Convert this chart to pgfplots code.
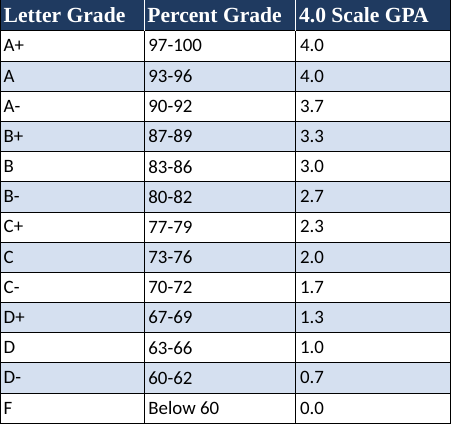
\documentclass[border=0pt]{standalone}
\usepackage{pgfplots}
\pgfplotsset{compat=1.18}
\usepackage{pgfplotstable}
\usepackage{fontspec}
\setmainfont{Carlito}
\newfontfamily\headfont{Liberation Serif}
\definecolor{navy}{HTML}{1F3A60}
\definecolor{rowblue}{HTML}{D5E0F0}
\pgfplotstableread[col sep=comma]{
y,a,b,c
48.0,A+,97-100,4.0
77.8,A,93-96,4.0
107.6,A-,90-92,3.7
137.4,B+,87-89,3.3
167.3,B,83-86,3.0
197.1,B-,80-82,2.7
226.9,C+,77-79,2.3
256.8,C,73-76,2.0
286.6,C-,70-72,1.7
316.4,D+,67-69,1.3
346.3,D,63-66,1.0
376.1,D-,60-62,0.7
406.0,F,Below 60,0.0
}\grades
\begin{document}
\begin{tikzpicture}
\begin{axis}[scale only axis, width=338.25pt, height=320.25pt,
 xmin=0,xmax=451,ymin=0,ymax=427, y dir=reverse, axis lines=none,
 clip=false]
% header
\addplot[fill=navy, draw=navy] coordinates {(3,3)(448,3)(448,33)(3,33)} -- cycle;
% shaded rows
\foreach \t in {62.9,122.6,182.2,241.9,301.5,361.2}{
 \edef\tmp{\noexpand\addplot[fill=rowblue, draw=none] coordinates {(3,\t)(448,\t)(448,\t+29.85)(3,\t+29.85)} -- cycle;}\tmp
}
% grid
\foreach \t in {33,62.9,92.7,122.6,152.4,182.2,212.1,241.9,271.8,301.5,331.4,361.2,391.1,421}{
 \edef\tmp{\noexpand\addplot[black, line width=0.6pt] coordinates {(3,\t)(448,\t)};}\tmp
}
\addplot[black, line width=0.6pt] coordinates {(3,3)(3,421)};
\addplot[black, line width=0.6pt] coordinates {(448,3)(448,421)};
\addplot[black, line width=0.6pt] coordinates {(145,33)(145,421)};
\addplot[black, line width=0.6pt] coordinates {(295,33)(295,421)};
\addplot[white, line width=0.6pt] coordinates {(145,3)(145,33)};
\addplot[white, line width=0.6pt] coordinates {(295,3)(295,33)};
% header text
\addplot[only marks, mark=none, nodes near coords, point meta=explicit symbolic,
 every node near coord/.append style={anchor=west, text=white, font=\headfont\bfseries\fontsize{16}{18}\selectfont, inner sep=0pt}]
 table[meta=t, col sep=comma] {
x,y,t
6,18,Letter Grade
148,18,Percent Grade
298,18,4.0 Scale GPA
};
% body
\addplot[only marks, mark=none, nodes near coords, point meta=explicit symbolic,
 every node near coord/.append style={anchor=west, font=\fontsize{14}{16}\selectfont, inner sep=0pt}]
 table[x expr=6, y=y, meta=a] {\grades};
\addplot[only marks, mark=none, nodes near coords, point meta=explicit symbolic,
 every node near coord/.append style={anchor=west, font=\fontsize{14}{16}\selectfont, inner sep=0pt}]
 table[x expr=149, y=y, meta=b] {\grades};
\addplot[only marks, mark=none, nodes near coords, point meta=explicit symbolic,
 every node near coord/.append style={anchor=west, font=\fontsize{14}{16}\selectfont, inner sep=0pt}]
 table[x expr=299, y=y, meta=c] {\grades};
\end{axis}
\end{tikzpicture}
\end{document}
